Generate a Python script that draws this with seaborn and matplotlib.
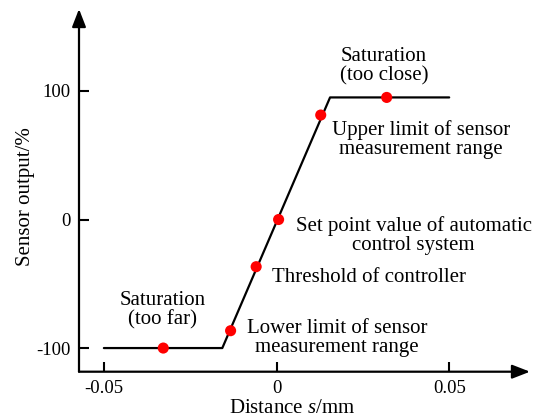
import numpy as np
import pandas as pd
import matplotlib
matplotlib.use("Agg")
import matplotlib.pyplot as plt
import seaborn as sns

# ---- data ----
curve_x = [-0.05, -0.0157, 0.0155, 0.05]
curve_y = [-100, -100, 95, 95]
points_x = [-0.0328, -0.0133, -0.0059, 0.0006, 0.0128, 0.0319]
points_y = [-100, -86.5, -36.7, 0, 81.3, 95]
labels = ["Saturation\n(too close)",
          "Upper limit of sensor\nmeasurement range",
          "Set point value of automatic\ncontrol system",
          "Threshold of controller",
          "Saturation\n(too far)",
          "Lower limit of sensor\nmeasurement range"]
xticks = [-0.05, 0, 0.05]
xticklabels = ["-0.05", "0", "0.05"]
yticks = [-100, 0, 100]
yticklabels = ["-100", "0", "100"]

sns.set_theme(style="white")
plt.rcParams['font.family'] = ['Liberation Serif', 'DejaVu Serif']
plt.rcParams['mathtext.fontset'] = 'custom'
plt.rcParams['mathtext.rm'] = 'Liberation Serif'
plt.rcParams['mathtext.it'] = 'Liberation Serif:italic'
plt.rcParams['axes.unicode_minus'] = False
plt.rcParams['text.color'] = 'black'
plt.rcParams['axes.labelcolor'] = 'black'
plt.rcParams['xtick.color'] = 'black'
plt.rcParams['ytick.color'] = 'black'

fig = plt.figure(figsize=(5.49, 4.18), dpi=100)
W, H = 549, 418
ax_l, ax_r, ax_b, ax_t = 79, 530, 371.7, 9
ax = fig.add_axes([ax_l / W, (H - ax_b) / H, (ax_r - ax_l) / W, (ax_b - ax_t) / H])

curve = pd.DataFrame({"x": curve_x, "y": curve_y})
pts = pd.DataFrame({"x": points_x, "y": points_y})
sns.lineplot(data=curve, x="x", y="y", sort=False, color="black", lw=1.6, ax=ax)
sns.scatterplot(data=pts, x="x", y="y", color="#ff0000", s=64, edgecolor="none", ax=ax, zorder=5)

ax.set_xlim(-0.0572, 0.0734)
ax.set_ylim(-118.4, 163.8)

for s in ax.spines.values():
    s.set_visible(False)
# axes with arrows
arrow_kw = dict(arrowstyle='-|>,head_length=0.9,head_width=0.35', lw=1.6,
                color='black', shrinkA=0, shrinkB=0)
ax.annotate('', xy=(1, 0), xytext=(0, 0), xycoords='axes fraction',
            textcoords='axes fraction', arrowprops=arrow_kw)
ax.annotate('', xy=(0, 1), xytext=(0, 0), xycoords='axes fraction',
            textcoords='axes fraction', arrowprops=arrow_kw)

ax.set_xticks(xticks)
ax.set_xticklabels(xticklabels)
ax.set_yticks(yticks)
ax.set_yticklabels(yticklabels)
ax.tick_params(axis='both', direction='in', length=7, width=1.5, color='black',
               labelsize=13.5, labelcolor='black')
ax.tick_params(axis='x', pad=6, bottom=True)
ax.tick_params(axis='y', pad=6, left=True)

ax.set_xlabel("Distance $s$/mm", fontsize=15, color='black')
ax.set_ylabel("Sensor output/%", fontsize=15, color='black')
ax.xaxis.set_label_coords(0.473, -0.075)
ax.yaxis.set_label_coords(-0.097, 0.482)

fs = 15
ax.text(0.0311, 119.5, labels[0], ha='center', va='center', fontsize=fs, linespacing=1.0)
ax.text(0.0418, 61.9, labels[1], ha='center', va='center', fontsize=fs, linespacing=1.0)
ax.text(0.0397, -12.5, labels[2], ha='center', va='center', fontsize=fs, linespacing=1.0)
ax.text(-0.0014, -45.1, labels[3], ha='left', va='center', fontsize=fs)
ax.text(-0.0329, -70.4, labels[4], ha='center', va='center', fontsize=fs, linespacing=1.0)
ax.text(0.0175, -91.8, labels[5], ha='center', va='center', fontsize=fs, linespacing=1.0)

fig.savefig("out.png", dpi=100)
